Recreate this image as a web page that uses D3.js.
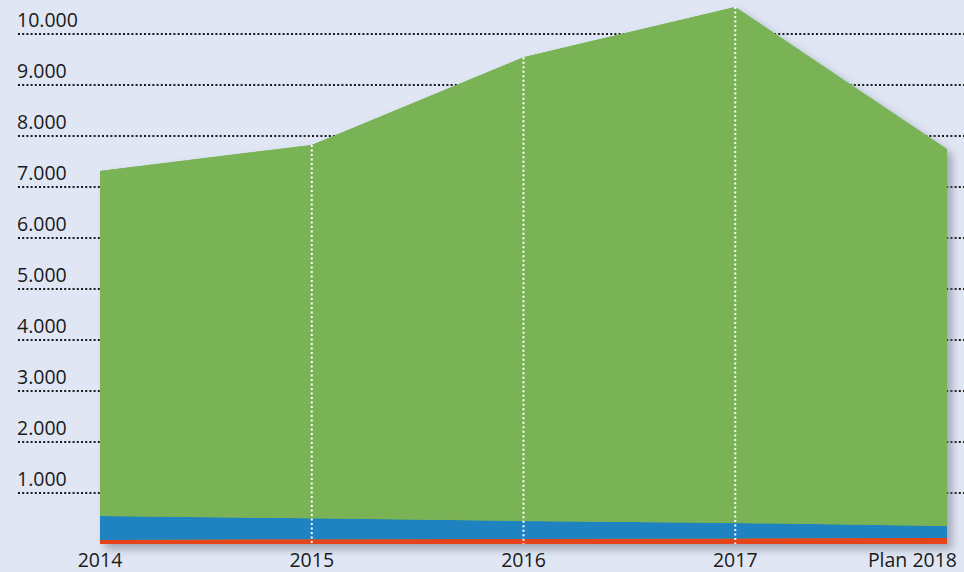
<!DOCTYPE html>
<html>
<head>
<meta charset="utf-8">
<script src="https://cdn.jsdelivr.net/npm/d3@7"></script>
<style>
  html, body { margin: 0; padding: 0; background: #e0e6f4; }
  svg { display: block; }
</style>
</head>
<body>
<svg id="chart" width="964" height="572"></svg>
<script>
// ---- data ----
const categories = ["2014", "2015", "2016", "2017", "Plan 2018"];
const seriesRed   = [80, 95, 100, 110, 120];
const seriesBlue  = [469, 409, 351, 302, 233];
const seriesGreen = [6765, 7320, 9092, 10117, 7386];
const yTicks = [1000, 2000, 3000, 4000, 5000, 6000, 7000, 8000, 9000, 10000];

const W = 964, H = 572;
const FONT = "'Open Sans', 'DejaVu Sans', sans-serif";
const svg = d3.select("#chart");

const x = d3.scalePoint().domain(categories).range([100, 947]);
const y = d3.scaleLinear().domain([0, 10000]).range([544, 34]);

const loc = d3.formatLocale({decimal: ",", thousands: ".", grouping: [3], currency: ["", "€"]});
const fmt = loc.format(",d");

// background
svg.append("rect").attr("width", W).attr("height", H).attr("fill", "#e0e6f4");

const defs = svg.append("defs");
const f = defs.append("filter").attr("id", "shadow")
  .attr("x", "-5%").attr("y", "-5%").attr("width", "115%").attr("height", "115%");
f.append("feDropShadow").attr("dx", 5).attr("dy", 5).attr("stdDeviation", 4)
  .attr("flood-color", "#6a6f80").attr("flood-opacity", 0.55);

// gridlines + labels
const grid = svg.append("g");
yTicks.forEach(t => {
  grid.append("line")
    .attr("x1", 18).attr("x2", W)
    .attr("y1", y(t)).attr("y2", y(t))
    .attr("stroke", "#1a1a1a").attr("stroke-width", 2)
    .attr("stroke-dasharray", "2 2.2");
  grid.append("text")
    .attr("x", 17).attr("y", y(t) - 7)
    .attr("font-family", FONT).attr("font-size", 19.5)
    .attr("fill", "#1a1a1a")
    .text(fmt(t));
});

// stacked areas
const rows = categories.map((c, i) => ({cat: c, red: seriesRed[i], blue: seriesBlue[i], green: seriesGreen[i]}));
const stack = d3.stack().keys(["red", "blue", "green"]);
const layers = stack(rows);
const colors = {red: "#e5431a", blue: "#1f82c1", green: "#7ab356"};

const area = d3.area()
  .x(d => x(d.data.cat))
  .y0(d => y(d[0]))
  .y1(d => y(d[1]));

const areaG = svg.append("g");
const total = layers[layers.length - 1];
areaG.append("path")
  .datum(total)
  .attr("d", d3.area().x(d => x(d.data.cat)).y0(y(0)).y1(d => y(d[1])))
  .attr("fill", colors.green)
  .attr("filter", "url(#shadow)");

layers.forEach(l => {
  areaG.append("path")
    .datum(l)
    .attr("d", area)
    .attr("fill", colors[l.key]);
});

// white dotted verticals at inner categories
categories.slice(1, -1).forEach((c, i) => {
  const idx = i + 1;
  svg.append("line")
    .attr("x1", x(c)).attr("x2", x(c))
    .attr("y1", y(total[idx][1])).attr("y2", y(0))
    .attr("stroke", "#ffffff").attr("stroke-width", 2)
    .attr("stroke-dasharray", "2 2.5");
});

// x labels
categories.forEach((c, i) => {
  const last = i === categories.length - 1;
  svg.append("text")
    .attr("x", last ? 957 : x(c))
    .attr("y", 567)
    .attr("text-anchor", last ? "end" : "middle")
    .attr("font-family", FONT).attr("font-size", 19.5)
    .attr("fill", "#1a1a1a")
    .text(c);
});
</script>
</body>
</html>
